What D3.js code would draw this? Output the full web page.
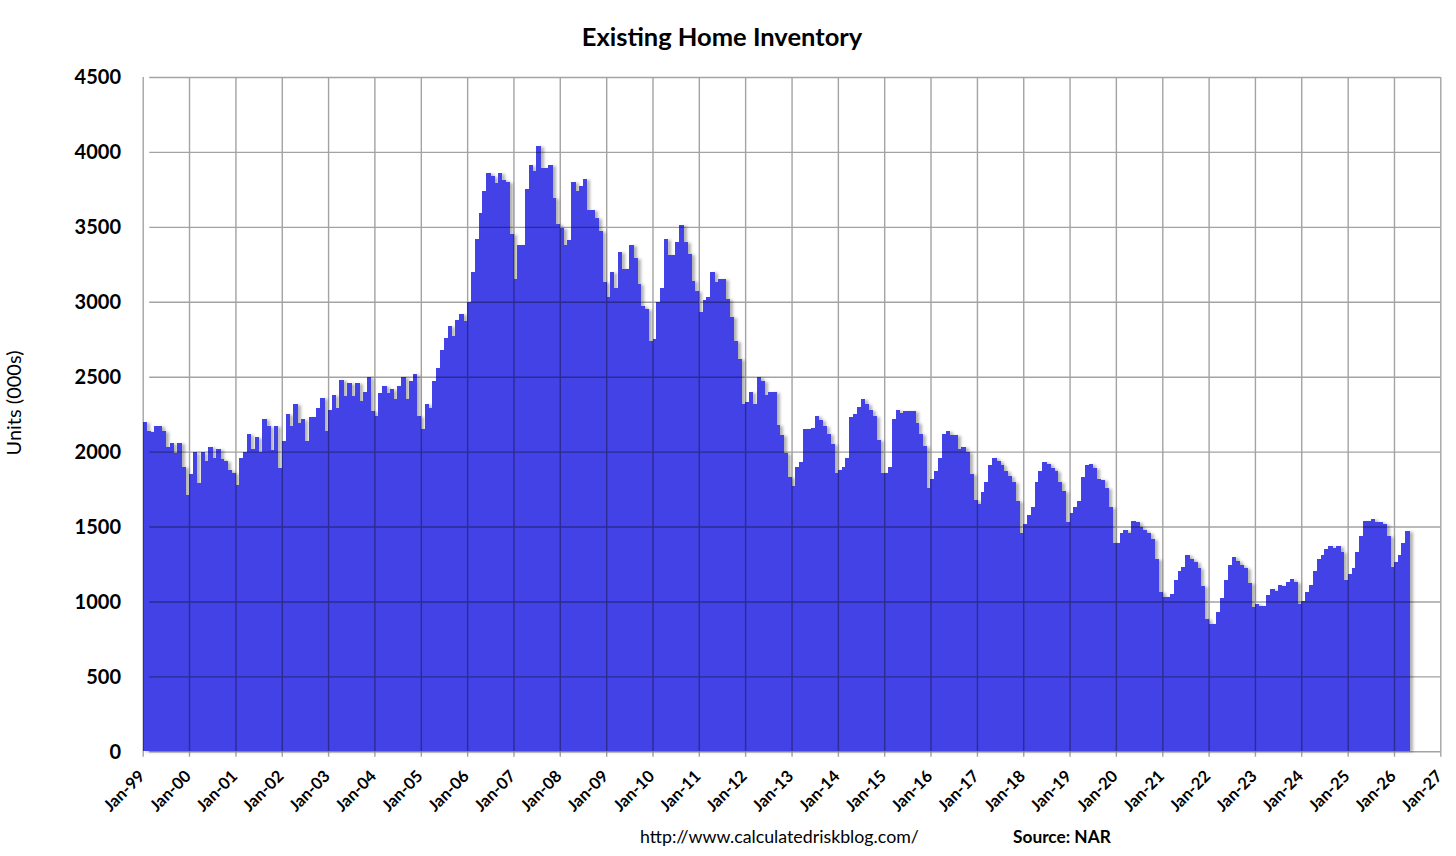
<!DOCTYPE html>
<html>
<head>
<meta charset="utf-8">
<script src="https://cdn.jsdelivr.net/npm/d3@7/dist/d3.min.js"></script>
<style>
  html, body { margin: 0; padding: 0; background: #fff; }
  svg { display: block; }
  text { font-family: Lato, "Open Sans", "DejaVu Sans", sans-serif; fill: #000; }
</style>
</head>
<body>
<svg id="chart" width="1456" height="856"></svg>
<script>
// ---------- DATA ----------
const title = "Existing Home Inventory";
const yAxisTitle = "Units (000s)";
const footerUrl = "http://www.calculatedriskblog.com/";
const footerSource = "Source: NAR";
const startYear = 1999;           // first month = Jan-1999
const endYear = 2027;             // axis ends at Jan-2027
// Monthly inventory, thousands of units (Jan-1999 ... Apr-2026)
const inventory = [
  2200, 2140, 2130, 2170, 2170, 2140, 2030, 2060, 1990, 2060, 1900, 1710, // 1999
  1850, 2000, 1790, 2000, 1940, 2030, 1960, 2020, 1950, 1940, 1880, 1860, // 2000
  1780, 1960, 2000, 2120, 2020, 2100, 2000, 2220, 2170, 2010, 2170, 1890, // 2001
  2070, 2250, 2170, 2320, 2190, 2220, 2070, 2230, 2230, 2290, 2360, 2140, // 2002
  2280, 2380, 2290, 2480, 2370, 2460, 2370, 2460, 2340, 2400, 2500, 2270, // 2003
  2240, 2390, 2440, 2390, 2420, 2350, 2440, 2500, 2350, 2470, 2520, 2240, // 2004
  2150, 2320, 2290, 2470, 2560, 2680, 2760, 2840, 2770, 2880, 2920, 2870, // 2005
  3000, 3200, 3420, 3590, 3740, 3860, 3840, 3790, 3860, 3810, 3800, 3450, // 2006
  3150, 3380, 3380, 3750, 3910, 3870, 4040, 3890, 3890, 3910, 3690, 3520, // 2007
  3490, 3380, 3410, 3800, 3740, 3770, 3820, 3610, 3610, 3560, 3470, 3130, // 2008
  3030, 3200, 3090, 3330, 3220, 3220, 3380, 3290, 3120, 2970, 2950, 2740, // 2009
  2750, 3000, 3090, 3420, 3310, 3310, 3400, 3510, 3400, 3320, 3140, 3070, // 2010
  2930, 3010, 3030, 3200, 3130, 3150, 3150, 3020, 2900, 2740, 2620, 2320, // 2011
  2330, 2400, 2320, 2500, 2470, 2380, 2400, 2400, 2180, 2110, 1990, 1830, // 2012
  1770, 1900, 1930, 2150, 2150, 2160, 2240, 2210, 2170, 2120, 2050, 1860, // 2013
  1880, 1900, 1960, 2230, 2250, 2300, 2350, 2320, 2280, 2240, 2080, 1860, // 2014
  1860, 1900, 2220, 2280, 2260, 2270, 2270, 2270, 2190, 2120, 2040, 1760, // 2015
  1820, 1870, 1960, 2120, 2140, 2110, 2110, 2020, 2030, 2000, 1850, 1680, // 2016
  1650, 1730, 1800, 1910, 1960, 1940, 1910, 1870, 1840, 1800, 1670, 1460, // 2017
  1520, 1580, 1630, 1800, 1870, 1930, 1920, 1890, 1870, 1800, 1740, 1530, // 2018
  1590, 1630, 1670, 1830, 1910, 1920, 1890, 1820, 1810, 1760, 1630, 1390, // 2019
  1390, 1460, 1480, 1460, 1540, 1530, 1500, 1480, 1460, 1420, 1280, 1060, // 2020
  1030, 1030, 1050, 1140, 1200, 1230, 1310, 1280, 1260, 1220, 1100,  880, // 2021
   850,  850,  930, 1020, 1140, 1240, 1300, 1270, 1240, 1220, 1120,  960, // 2022
   980,  970,  970, 1040, 1080, 1070, 1110, 1100, 1130, 1150, 1130,  980, // 2023
  1000, 1060, 1110, 1200, 1280, 1310, 1350, 1370, 1360, 1370, 1330, 1140, // 2024
  1180, 1220, 1330, 1440, 1540, 1540, 1550, 1530, 1530, 1520, 1440, 1230, // 2025
  1260, 1310, 1390, 1470                                                  // 2026
];
const yTicks = [0, 500, 1000, 1500, 2000, 2500, 3000, 3500, 4000, 4500];
const xTickLabels = ["Jan-99","Jan-00","Jan-01","Jan-02","Jan-03","Jan-04","Jan-05",
  "Jan-06","Jan-07","Jan-08","Jan-09","Jan-10","Jan-11","Jan-12","Jan-13","Jan-14",
  "Jan-15","Jan-16","Jan-17","Jan-18","Jan-19","Jan-20","Jan-21","Jan-22","Jan-23",
  "Jan-24","Jan-25","Jan-26","Jan-27"];

// ---------- LAYOUT ----------
const plot = { left: 142.7, right: 1440.3, top: 77, bottom: 751.3 };
const barColor = "#4343E6";
const gridColor = "#a3a3a3";

const svg = d3.select("#chart");

const x = d3.scaleUtc()
  .domain([new Date(Date.UTC(startYear, 0, 1)), new Date(Date.UTC(endYear, 0, 1))])
  .range([plot.left, plot.right]);
const y = d3.scaleLinear().domain([0, 4500]).range([plot.bottom, plot.top]);

const data = inventory.map((v, i) => ({
  d0: new Date(Date.UTC(startYear, i, 1)),
  d1: new Date(Date.UTC(startYear, i + 1, 1)),
  v
}));

// shadow filter
const defs = svg.append("defs");
const f = defs.append("filter").attr("id", "shadow")
  .attr("x", "-5%").attr("y", "-5%").attr("width", "110%").attr("height", "110%");
f.append("feDropShadow").attr("dx", 3).attr("dy", 1).attr("stdDeviation", 1.4)
  .attr("flood-color", "#000").attr("flood-opacity", 0.3);

// bars
svg.append("g").attr("filter", "url(#shadow)")
  .selectAll("rect").data(data).join("rect")
  .attr("x", d => x(d.d0))
  .attr("width", d => x(d.d1) - x(d.d0) + 0.6)
  .attr("y", d => y(d.v))
  .attr("height", d => y(0) - y(d.v))
  .attr("fill", barColor)
  .attr("shape-rendering", "crispEdges");

// gridlines (multiply so they darken the bars)
const grid = svg.append("g").style("mix-blend-mode", "multiply");
const yearDates = d3.range(startYear, endYear + 1).map(yr => new Date(Date.UTC(yr, 0, 1)));

// horizontal grid via axis
grid.append("g")
  .attr("transform", `translate(${plot.left},0)`)
  .call(d3.axisLeft(y).tickValues(yTicks).tickSize(-(plot.right - plot.left)).tickFormat(""))
  .call(g => g.select(".domain").remove())
  .call(g => g.selectAll("line").attr("stroke", gridColor).attr("stroke-width", 1.4)
    .attr("x1", 6.5));
// vertical grid via axis
grid.append("g")
  .attr("transform", `translate(0,${plot.bottom})`)
  .call(d3.axisBottom(x).tickValues(yearDates).tickSize(-(plot.bottom - plot.top)).tickFormat(""))
  .call(g => g.select(".domain").remove())
  .call(g => g.selectAll("line").attr("stroke", gridColor).attr("stroke-width", 1.4)
    .attr("y1", 5.5));

// y tick labels
svg.append("g").selectAll("text").data(yTicks).join("text")
  .attr("x", 121).attr("y", d => y(d))
  .attr("dy", "0.36em")
  .attr("text-anchor", "end")
  .attr("font-weight", "bold")
  .attr("font-size", 20)
  .text(d => d);

// x tick labels
svg.append("g").selectAll("text").data(yearDates).join("text")
  .attr("transform", d => `translate(${x(d) + 3},${plot.bottom + 26}) rotate(-45)`)
  .attr("text-anchor", "end")
  .attr("font-weight", "bold")
  .attr("font-size", 16.5)
  .text((d, i) => xTickLabels[i]);

// title
svg.append("text")
  .attr("x", 722).attr("y", 46)
  .attr("text-anchor", "middle")
  .attr("font-weight", "bold")
  .attr("font-size", 25.5)
  .text(title);

// y axis title
svg.append("text")
  .attr("transform", "translate(21,403) rotate(-90)")
  .attr("text-anchor", "middle")
  .attr("font-size", 20)
  .text(yAxisTitle);

// footer
svg.append("text")
  .attr("x", 640).attr("y", 843)
  .attr("font-size", 17.8)
  .text(footerUrl);
svg.append("text")
  .attr("x", 1013).attr("y", 843)
  .attr("font-weight", "bold")
  .attr("font-size", 17.3)
  .text(footerSource);
</script>
</body>
</html>
